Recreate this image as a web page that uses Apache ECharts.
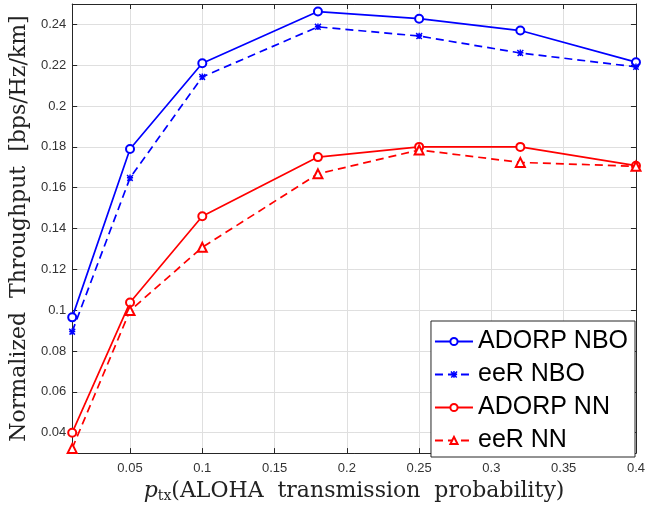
<!DOCTYPE html>
<html>
<head>
<meta charset="utf-8">
<script src="https://cdn.jsdelivr.net/npm/echarts@6/dist/echarts.min.js"></script>
<style>
  html, body { margin: 0; padding: 0; background: #fff; }
  #chart { width: 648px; height: 508px; }
</style>
</head>
<body>
<div id="chart"></div>
<script>
// x positions (transmission probability)
var pTx = [0.01, 0.05, 0.1, 0.18, 0.25, 0.32, 0.4];
// normalized throughput per method
var adorpNBO = [0.0965, 0.179, 0.221, 0.2463, 0.2428, 0.237, 0.2215];
var eerNBO = [0.0895, 0.1648, 0.2143, 0.2388, 0.2343, 0.226, 0.2192];
var adorpNN = [0.040, 0.1038, 0.1460, 0.1750, 0.1800, 0.1800, 0.1708];
var eerNN = [0.0323, 0.0998, 0.1308, 0.1668, 0.1785, 0.1724, 0.1705];
var seriesNames = ['ADORP NBO', 'eeR NBO', 'ADORP NN', 'eeR NN'];

function pairs(ys) {
    return pTx.map(function (x, i) { return [x, ys[i]]; });
}

// thick asterisk marker, like matlab '*' at small size
var asterisk = 'path://M3.8,0h2.4v10h-2.4z M0,3.8h10v2.4h-10z M1.0,-0.2l9.2,9.2l-1.7,1.7l-9.2,-9.2z M9.0,-0.2l1.7,1.7l-9.2,9.2l-1.7,-1.7z';

var axisColor = '#262626';
var gridColor = '#dfdfdf';
var serif = 'DejaVu Serif';

function tickFmt(v) {
    return String(parseFloat(v.toFixed(3)));
}

var chart = echarts.init(document.getElementById('chart'));

var option = {
    animation: false,
    backgroundColor: '#fff',
    grid: { left: 68, right: 9, top: 4, bottom: 53 },
    legend: {
        data: seriesNames,
        orient: 'vertical',
        right: 13,
        bottom: 51,
        itemWidth: 38,
        itemHeight: 9,
        itemGap: 8,
        padding: [8, 7, 4, 3],
        borderColor: axisColor,
        borderWidth: 1,
        backgroundColor: '#fff',
        borderRadius: 0,
        textStyle: { fontFamily: 'Liberation Sans', fontSize: 25, color: '#000' }
    },
    xAxis: [
        {
            type: 'value',
            min: 0.01,
            max: 0.4,
            splitNumber: 8,
            name: '{p|p}{sub|tx}{t|(ALOHA  transmission  probability)}',
            nameLocation: 'middle',
            nameGap: 22,
            nameTextStyle: {
                rich: {
                    p: { fontFamily: serif, fontStyle: 'italic', fontSize: 22, color: '#222' },
                    sub: { fontFamily: serif, fontSize: 14, color: '#222', padding: [10, 0, 0, 0] },
                    t: { fontFamily: serif, fontSize: 22, color: '#222' }
                }
            },
            axisLine: { lineStyle: { color: axisColor } },
            axisTick: { inside: true, length: 5, lineStyle: { color: axisColor } },
            axisLabel: {
                showMinLabel: false,
                margin: 9,
                fontFamily: 'Liberation Sans',
                fontSize: 13,
                color: '#333',
                formatter: tickFmt
            },
            splitLine: { show: true, lineStyle: { color: gridColor } }
        },
        {
            type: 'value',
            position: 'top',
            min: 0.01,
            max: 0.4,
            splitNumber: 8,
            axisLine: { lineStyle: { color: axisColor } },
            axisTick: { inside: true, length: 5, lineStyle: { color: axisColor } },
            axisLabel: { show: false },
            splitLine: { show: false }
        }
    ],
    yAxis: [
        {
            type: 'value',
            min: 0.03,
            max: 0.25,
            splitNumber: 10,
            name: 'Normalized  Throughput  [bps/Hz/km]',
            nameLocation: 'middle',
            nameGap: 38,
            nameTextStyle: { fontFamily: serif, fontSize: 22, color: '#222' },
            axisLine: { lineStyle: { color: axisColor } },
            axisTick: { inside: true, length: 5, lineStyle: { color: axisColor } },
            axisLabel: {
                showMinLabel: false,
                showMaxLabel: false,
                margin: 6,
                fontFamily: 'Liberation Sans',
                fontSize: 13,
                color: '#333',
                formatter: tickFmt
            },
            splitLine: { show: true, lineStyle: { color: gridColor } }
        },
        {
            type: 'value',
            position: 'right',
            min: 0.03,
            max: 0.25,
            splitNumber: 10,
            axisLine: { lineStyle: { color: axisColor } },
            axisTick: { inside: true, length: 5, lineStyle: { color: axisColor } },
            axisLabel: { show: false },
            splitLine: { show: false }
        }
    ],
    series: [
        {
            name: seriesNames[0],
            type: 'line',
            data: pairs(adorpNBO),
            color: '#0000ff',
            symbol: 'emptyCircle',
            symbolSize: 8,
            lineStyle: { width: 1.7 },
            itemStyle: { borderWidth: 1.5 }
        },
        {
            name: seriesNames[1],
            type: 'line',
            data: pairs(eerNBO),
            color: '#0000ff',
            symbol: asterisk,
            symbolSize: 7,
            lineStyle: { width: 1.7, type: [8, 5] }
        },
        {
            name: seriesNames[2],
            type: 'line',
            data: pairs(adorpNN),
            color: '#ff0000',
            symbol: 'emptyCircle',
            symbolSize: 8,
            lineStyle: { width: 1.7 },
            itemStyle: { borderWidth: 1.5 }
        },
        {
            name: seriesNames[3],
            type: 'line',
            data: pairs(eerNN),
            color: '#ff0000',
            symbol: 'emptyTriangle',
            symbolSize: 9,
            lineStyle: { width: 1.7, type: [8, 5] },
            itemStyle: { borderWidth: 1.5 }
        }
    ]
};

chart.setOption(option);
</script>
</body>
</html>
